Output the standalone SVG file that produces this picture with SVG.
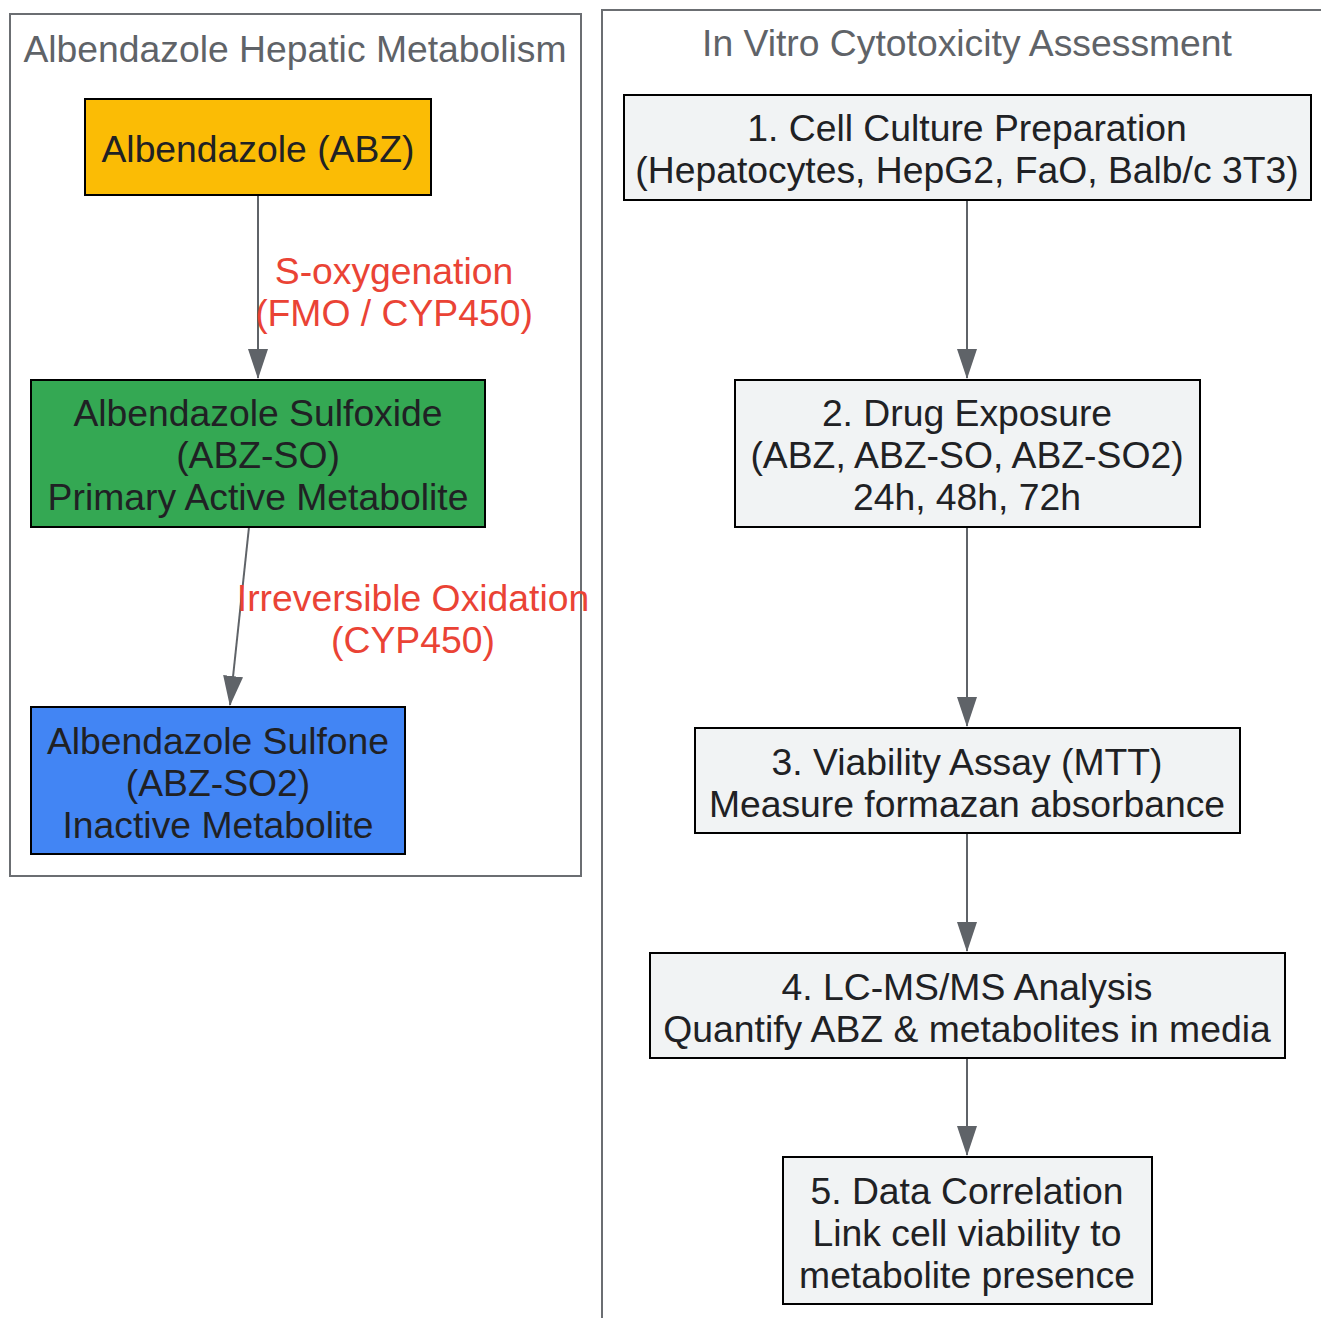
<svg xmlns="http://www.w3.org/2000/svg" width="1321" height="1318" viewBox="0 0 1321 1318">
<defs>
<marker id="arr" viewBox="0 0 30 22" refX="29" refY="11" markerUnits="userSpaceOnUse" markerWidth="30" markerHeight="22" orient="auto">
<path d="M0,1 L30,11 L0,21 z" fill="#5f6368"/>
</marker>
<style>
.cl{fill:#ffffff;stroke:#6b6e72;stroke-width:2}
.ct{font-family:"Liberation Sans",Arial,sans-serif;font-size:37.3px;fill:#5f6368;text-anchor:middle}
.n{stroke:#000000;stroke-width:2}
.t{font-family:"Liberation Sans",Arial,sans-serif;font-size:37.3px;fill:#202124;text-anchor:middle}
.el{font-family:"Liberation Sans",Arial,sans-serif;font-size:37.3px;fill:#ea4335;text-anchor:middle}
.e{stroke:#5f6368;stroke-width:2;fill:none;marker-end:url(#arr)}
</style>
</defs>
<rect width="1321" height="1318" fill="#ffffff"/>
<g id="cluster_metabolism">
<rect class="cl" x="10" y="14" width="571" height="862"/>
<text class="ct" x="295" y="62">Albendazole Hepatic Metabolism</text>
</g>
<g id="cluster_assay">
<rect class="cl" x="602" y="10" width="760" height="1340"/>
<text class="ct" x="967" y="56">In Vitro Cytotoxicity Assessment</text>
</g>
<g id="edges">
<line class="e" x1="258" y1="195" x2="258" y2="378"/>
<line class="e" x1="249" y1="527" x2="230" y2="705"/>
<line class="e" x1="967" y1="200" x2="967" y2="378"/>
<line class="e" x1="967" y1="527" x2="967" y2="726"/>
<line class="e" x1="967" y1="833" x2="967" y2="951"/>
<line class="e" x1="967" y1="1058" x2="967" y2="1155"/>
</g>
<g id="edge_labels">
<text class="el" x="394" y="284">S-oxygenation</text>
<text class="el" x="394" y="326">(FMO / CYP450)</text>
<text class="el" x="413" y="611">Irreversible Oxidation</text>
<text class="el" x="413" y="653">(CYP450)</text>
</g>
<g id="ABZ">
<rect class="n" x="85" y="99" width="346" height="96" fill="#fbbc05"/>
<text class="t" x="258" y="162">Albendazole (ABZ)</text>
</g>
<g id="ABZ_SO">
<rect class="n" x="31" y="380" width="454" height="147" fill="#34a853"/>
<text class="t" x="258" y="426">Albendazole Sulfoxide</text>
<text class="t" x="258" y="468">(ABZ-SO)</text>
<text class="t" x="258" y="510">Primary Active Metabolite</text>
</g>
<g id="ABZ_SO2">
<rect class="n" x="31" y="707" width="374" height="147" fill="#4285f4"/>
<text class="t" x="218" y="754">Albendazole Sulfone</text>
<text class="t" x="218" y="796">(ABZ-SO2)</text>
<text class="t" x="218" y="838">Inactive Metabolite</text>
</g>
<g id="step1">
<rect class="n" x="624" y="95" width="687" height="105" fill="#f1f3f4"/>
<text class="t" x="967" y="141">1. Cell Culture Preparation</text>
<text class="t" x="967" y="183">(Hepatocytes, HepG2, FaO, Balb/c 3T3)</text>
</g>
<g id="step2">
<rect class="n" x="735" y="380" width="465" height="147" fill="#f1f3f4"/>
<text class="t" x="967" y="426">2. Drug Exposure</text>
<text class="t" x="967" y="468">(ABZ, ABZ-SO, ABZ-SO2)</text>
<text class="t" x="967" y="510">24h, 48h, 72h</text>
</g>
<g id="step3">
<rect class="n" x="695" y="728" width="545" height="105" fill="#f1f3f4"/>
<text class="t" x="967" y="775">3. Viability Assay (MTT)</text>
<text class="t" x="967" y="817">Measure formazan absorbance</text>
</g>
<g id="step4">
<rect class="n" x="650" y="953" width="635" height="105" fill="#f1f3f4"/>
<text class="t" x="967" y="1000">4. LC-MS/MS Analysis</text>
<text class="t" x="967" y="1042">Quantify ABZ &amp; metabolites in media</text>
</g>
<g id="step5">
<rect class="n" x="783" y="1157" width="369" height="147" fill="#f1f3f4"/>
<text class="t" x="967" y="1204">5. Data Correlation</text>
<text class="t" x="967" y="1246">Link cell viability to</text>
<text class="t" x="967" y="1288">metabolite presence</text>
</g>
</svg>
